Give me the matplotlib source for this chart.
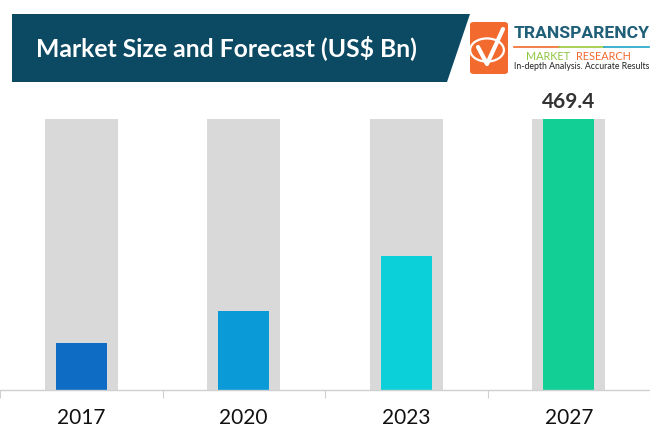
import matplotlib
matplotlib.use("Agg")
import matplotlib.pyplot as plt
from matplotlib.patches import Polygon, FancyBboxPatch, Circle
from matplotlib.lines import Line2D

categories = ["2017", "2020", "2023", "2027"]
values = [81.4, 136.8, 232.1, 469.4]
bar_colors = ["#0f6cc4", "#0a9ad8", "#0bd0d9", "#12cf96"]
title = "Market Size and Forecast (US$ Bn)"
label_value = "469.4"

W, H = 650, 445
fig = plt.figure(figsize=(W / 100, H / 100), dpi=100)
fig.patch.set_facecolor("white")

def fx(px):
    return px / W

def fy(py):
    return 1 - py / H

# Axes
ax = fig.add_axes([0, fy(390), 1, (390 - 119) / H])
x = list(range(len(categories)))
ymax = max(values)
ax.bar(x, [ymax] * len(x), width=0.45, color="#d9d9d9", zorder=1)
ax.bar(x, values, width=0.315, color=bar_colors, zorder=2)
ax.set_xlim(-0.5, len(categories) - 0.5)
ax.set_ylim(0, ymax)
for s in ["top", "left", "right"]:
    ax.spines[s].set_visible(False)
ax.spines["bottom"].set_color("#d0d0d0")
ax.spines["bottom"].set_linewidth(1.0)
ax.set_yticks([])
ax.set_xticks([i - 0.5 for i in range(len(categories) + 1)], minor=True)
ax.tick_params(axis="x", which="minor", length=6, color="#d0d0d0", width=0.8, direction="out")
ax.set_xticks(x)
ax.set_xticklabels(categories, fontsize=15, fontfamily="Lato", color="#111111")
ax.tick_params(axis="x", which="major", length=0, pad=13)
ax.set_facecolor("white")
ax.text(x[-1], values[-1] + 12, label_value, ha="center", va="bottom", fontsize=15,
        fontweight="bold", fontfamily="Lato", color="#333333", clip_on=False)

# Title banner
banner = Polygon([(fx(12), fy(14)), (fx(470), fy(14)), (fx(447), fy(82)), (fx(12), fy(82))],
                 closed=True, transform=fig.transFigure, facecolor="#0c4a63", edgecolor="none")
fig.patches.append(banner)
fig.text(fx(36), fy(48), title, color="white", fontsize=17.8, fontweight="bold",
         fontfamily="Lato", va="center", ha="left")

# Logo
logo_box = FancyBboxPatch((fx(470), fy(74)), fx(38), (74 - 22) / H,
                          boxstyle="round,pad=0,rounding_size=0.006",
                          transform=fig.transFigure, facecolor="#f26a2e", edgecolor="none")
fig.patches.append(logo_box)
fig.patches.append(Circle((fx(487), fy(50)), 0.026, transform=fig.transFigure,
                          facecolor="none", edgecolor="white", linewidth=1.6))
check = Line2D([fx(478), fx(487), fx(503)], [fy(47), fy(64), fy(29)],
               transform=fig.transFigure, color="white", linewidth=3.0,
               solid_capstyle="round", solid_joinstyle="round")
fig.lines.append(check)
fig.text(fx(514), fy(34), "TRANSPARENCY", color="#1f5f78", fontsize=12.6, fontweight="bold",
         fontfamily="Roboto", va="center", ha="left")
seg_cols = ["#f26a2e", "#9dc93c", "#1fa3c8"]
for i, c in enumerate(seg_cols):
    fig.lines.append(Line2D([fx(514 + i * 45), fx(514 + (i + 1) * 45)], [fy(47), fy(47)],
                            transform=fig.transFigure, color=c, linewidth=1.2))
fig.text(fx(526), fy(56), "MARKET", color="#8cc63f", fontsize=7.8, fontfamily="Lato",
         va="center", ha="left")
fig.text(fx(576), fy(56), "RESEARCH", color="#f26a2e", fontsize=7.8, fontfamily="Lato",
         va="center", ha="left")
fig.text(fx(514), fy(66.5), "In-depth Analysis. Accurate Results", color="#222222", fontsize=6.3,
         fontfamily="Lato", va="center", ha="left")

fig.savefig("out.png", dpi=100, facecolor="white")
